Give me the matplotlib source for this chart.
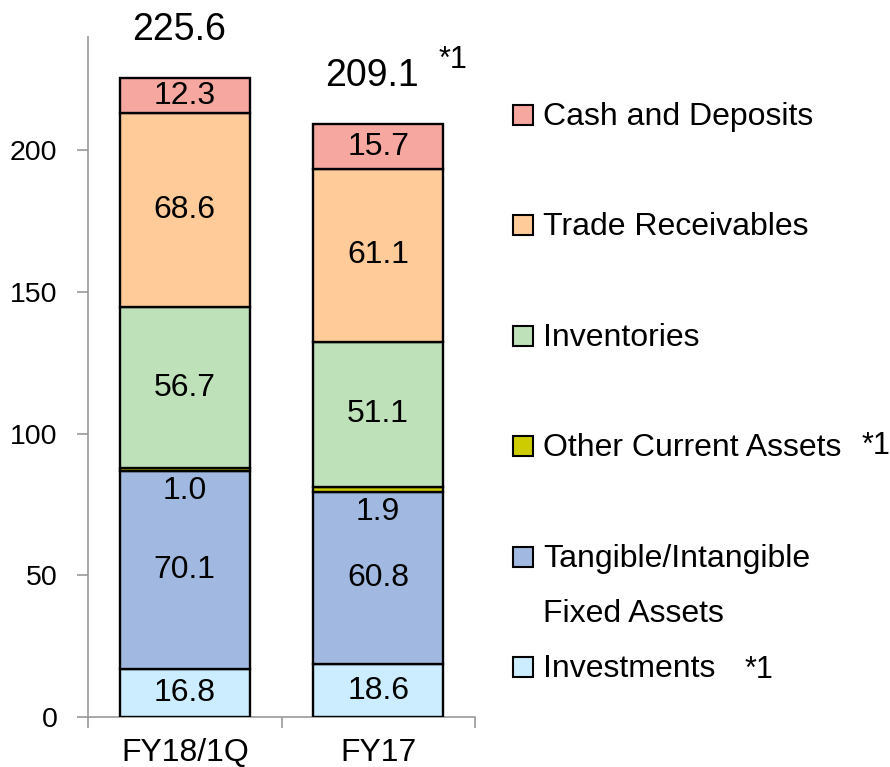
import numpy as np
import matplotlib.pyplot as plt
from matplotlib.patches import Rectangle

plt.rcParams['font.family'] = ['Liberation Sans', 'DejaVu Sans']

# Daten (Reihenfolge von unten nach oben)
categories = ['FY18/1Q', 'FY17']
series = ['Investments', 'Tangible/Intangible\nFixed Assets', 'Other Current Assets',
          'Inventories', 'Trade Receivables', 'Cash and Deposits']
investments = [16.8, 18.6]
fixed_assets = [70.1, 60.8]
other_current = [1.0, 1.9]
inventories = [56.7, 51.1]
trade_receivables = [68.6, 61.1]
cash = [12.3, 15.7]
totals = [225.6, 209.1]

values = [investments, fixed_assets, other_current, inventories, trade_receivables, cash]
colors = ['#CCECFF', '#A1B9E0', '#CCCC00', '#BFE1BA', '#FFCC99', '#F5A7A0']

W, H = 890, 767
fig = plt.figure(figsize=(W / 100, H / 100), dpi=100)
ax = fig.add_axes([88 / W, 1 - 717 / H, 387 / W, 680 / H])

x = np.arange(len(categories))
bottom = np.zeros(len(categories))
for i, vals in enumerate(values):
    vals = np.array(vals)
    ax.bar(x, vals, 0.67, bottom=bottom, color=colors[i], edgecolor='black',
           linewidth=1.7, zorder=3)
    for j in range(len(categories)):
        if i == 2:
            # kleine Werte unterhalb des Segments
            ax.text(x[j], bottom[j] - 7, '%.1f' % vals[j], ha='center', va='center',
                    fontsize=23, zorder=4)
        else:
            ax.text(x[j], bottom[j] + vals[j] / 2, '%.1f' % vals[j], ha='center',
                    va='center', fontsize=23, zorder=4)
    bottom = bottom + vals

for j in range(len(categories)):
    ax.text(x[j] - 0.03, totals[j] + 17, '%.1f' % totals[j], ha='center', va='center',
            fontsize=27, clip_on=False)

ax.set_xlim(-0.5, 1.5)
ax.set_ylim(0, 240)
ax.set_yticks([0, 50, 100, 150, 200])
ax.set_xticks(x)
ax.set_xticklabels(categories)
ax.set_xticks([-0.5, 0.5, 1.5], minor=True)

for s in ['top', 'right']:
    ax.spines[s].set_visible(False)
for s in ['left', 'bottom']:
    ax.spines[s].set_color('#9A9A9A')
    ax.spines[s].set_linewidth(1.2)

ax.tick_params(axis='y', length=8, width=1.2, color='#9A9A9A', pad=14, labelsize=20.5)
ax.tick_params(axis='x', which='major', length=0, pad=15, labelsize=23)
ax.tick_params(axis='x', which='minor', length=8, width=1.2, color='#9A9A9A')

fig.text(453 / W, 1 - 60 / H, '*1', ha='center', va='center', fontsize=22)

# Legende von Hand
legend_y = [115, 225, 336, 446, 557, 667]
legend_items = [5, 4, 3, 2, 1, 0]
for yy, k in zip(legend_y, legend_items):
    fig.add_artist(Rectangle((513 / W, 1 - (yy + 10) / H), 20 / W, 20 / H,
                             transform=fig.transFigure, facecolor=colors[k],
                             edgecolor='black', linewidth=1.5))
    name = series[k].split('\n')
    fig.text(543 / W, 1 - (yy + 2) / H, name[0], ha='left', va='center', fontsize=23)
    if len(name) > 1:
        fig.text(543 / W, 1 - 614 / H, name[1], ha='left', va='center', fontsize=23)

fig.text(862 / W, 1 - 446 / H, '*1', ha='left', va='center', fontsize=22)
fig.text(745 / W, 1 - 670 / H, '*1', ha='left', va='center', fontsize=22)

fig.savefig('out.png', dpi=100)
